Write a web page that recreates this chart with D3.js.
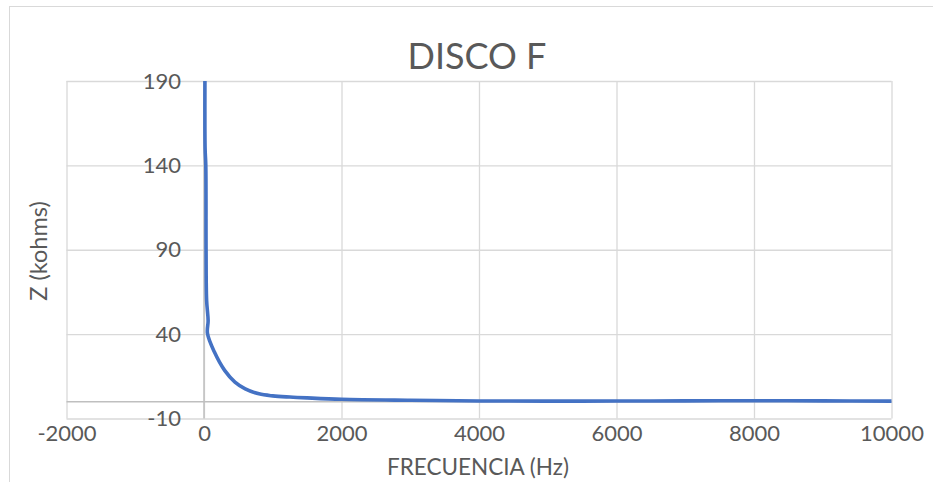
<!DOCTYPE html>
<html>
<head>
<meta charset="utf-8">
<script src="https://cdn.jsdelivr.net/npm/d3@7"></script>
<style>
  html, body { margin: 0; padding: 0; background: #fff; }
  svg { display: block; }
  text { font-family: Lato, "Open Sans", sans-serif; fill: #595959; }
</style>
</head>
<body>
<svg id="chart" width="933" height="482"></svg>
<script>
// ---- data ----
const chartTitle = "DISCO F";
const xTitle = "FRECUENCIA (Hz)";
const yTitle = "Z (kohms)";
const freqHz = [14, 16, 26, 30, 38, 60, 50, 150, 300, 450, 600, 800, 1000, 1250, 1500, 2000, 3000, 4000, 5000, 6000, 7000, 8000, 9000, 10000];
const zKohm  = [194, 150, 140, 90, 60, 48, 40.5, 29.5, 18.5, 11.6, 7.6, 4.6, 3.4, 2.7, 2.2, 1.4, 0.8, 0.4, 0.3, 0.35, 0.45, 0.5, 0.45, 0.3];
const xTicks = [-2000, 0, 2000, 4000, 6000, 8000, 10000];
const yTicks = [-10, 40, 90, 140, 190];

const svg = d3.select("#chart");
const W = 933, H = 482;
const mLeft = 66.5, mRight = 891.5, mTop = 81, mBottom = 418.5;
const fmt = d => String(d);

svg.append("rect").attr("width", W).attr("height", H).attr("fill", "#fff");
// outer chart border
svg.append("rect").attr("x", 9.5).attr("y", 6.5).attr("width", 1000).attr("height", 1000)
  .attr("fill", "none").attr("stroke", "#d9d9d9").attr("stroke-width", 1);

const x = d3.scaleLinear().domain([-2000, 10000]).range([mLeft, mRight]);
const y = d3.scaleLinear().domain([-10, 190]).range([mBottom, mTop]);

// gridlines
svg.append("g").attr("transform", `translate(${mLeft},0)`)
  .call(d3.axisLeft(y).tickValues(yTicks).tickSize(-(mRight - mLeft)).tickFormat(""))
  .call(g => g.select(".domain").remove())
  .call(g => g.selectAll("line").attr("stroke", "#d9d9d9").attr("stroke-width", 1.3));
svg.append("g").attr("transform", `translate(0,${mBottom})`)
  .call(d3.axisBottom(x).tickValues(xTicks).tickSize(-(mBottom - mTop)).tickFormat(""))
  .call(g => g.select(".domain").remove())
  .call(g => g.selectAll("line").attr("stroke", "#d9d9d9").attr("stroke-width", 1.3));

// zero axes
svg.append("line").attr("x1", mLeft).attr("x2", mRight).attr("y1", y(0)).attr("y2", y(0))
  .attr("stroke", "#bfbfbf").attr("stroke-width", 1.5);
svg.append("line").attr("x1", x(0)).attr("x2", x(0)).attr("y1", mTop).attr("y2", mBottom)
  .attr("stroke", "#bfbfbf").attr("stroke-width", 1.5);

// y tick labels next to vertical axis at x=0
svg.append("g").attr("transform", `translate(${x(0)},0)`)
  .call(d3.axisLeft(y).tickValues(yTicks).tickSize(0).tickPadding(23).tickFormat(fmt))
  .call(g => g.select(".domain").remove())
  .call(g => g.selectAll("text").attr("font-size", 22).attr("fill", "#595959")
    .attr("font-family", "Lato, 'Open Sans', sans-serif"));

// x tick labels
svg.append("g").attr("transform", `translate(0,${mBottom})`)
  .call(d3.axisBottom(x).tickValues(xTicks).tickSize(0).tickPadding(7).tickFormat(fmt))
  .call(g => g.select(".domain").remove())
  .call(g => g.selectAll("text").attr("font-size", 22).attr("fill", "#595959")
    .attr("font-family", "Lato, 'Open Sans', sans-serif"));

// data line
svg.append("clipPath").attr("id", "clip").append("rect")
  .attr("x", mLeft).attr("y", mTop).attr("width", mRight - mLeft).attr("height", mBottom - mTop);
const pts = freqHz.map((f, i) => [f, zKohm[i]]);
const line = d3.line().x(d => x(d[0])).y(d => y(d[1])).curve(d3.curveCatmullRom.alpha(0.5));
svg.append("path").datum(pts).attr("clip-path", "url(#clip)")
  .attr("d", line).attr("fill", "none").attr("stroke", "#4472C4")
  .attr("stroke-width", 3.6).attr("stroke-linejoin", "round").attr("stroke-linecap", "round");

// titles
svg.append("text").attr("x", 477).attr("y", 69).attr("text-anchor", "middle")
  .attr("font-size", 36).text(chartTitle);
svg.append("text").attr("x", 478).attr("y", 475).attr("text-anchor", "middle")
  .attr("font-size", 22.5).text(xTitle);
svg.append("text").attr("transform", "translate(47,251) rotate(-90)").attr("text-anchor", "middle")
  .attr("font-size", 23.5).text(yTitle);
</script>
</body>
</html>
